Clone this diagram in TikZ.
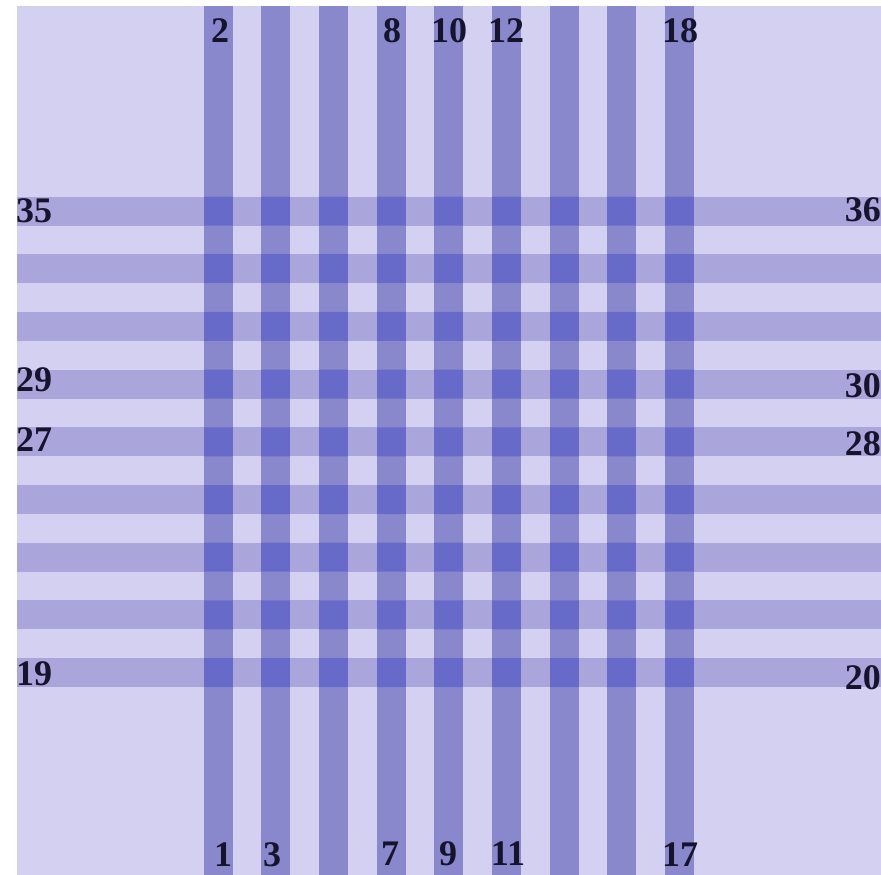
\documentclass[tikz,border=0pt]{standalone}
\usepackage{fontspec}
\setmainfont{Liberation Serif}
\usepackage{tikz}
\usetikzlibrary{positioning}
\definecolor{plaidbg}{RGB}{211,208,241}
\definecolor{plaidrow}{RGB}{170,166,220}
\definecolor{plaidcol}{RGB}{138,136,205}
\definecolor{plaidmix}{RGB}{103,106,201}
\definecolor{plaidink}{RGB}{22,20,45}

\tikzset{
  warp/.style={fill=plaidcol},
  weft/.style={fill=plaidrow},
  num/.style={font=\fontsize{36}{40}\selectfont\bfseries, text=plaidink, inner sep=0pt}
}

\begin{document}
\begin{tikzpicture}[x=1pt,y=-1pt]
  \useasboundingbox (0,0) rectangle (881,875);
  \fill[white] (0,0) rectangle (881,875);
  \fill[plaidbg] (17,6) rectangle (881,875);

  % horizontal strips, then vertical ones, then the crossings
  \foreach \y in {211,268.7,326.4,384.1,441.8,499.5,557.2,614.9,672.6}
    \fill[weft] (17,\y-14.5) rectangle (881,\y+14.5);
  \foreach \x in {218,275.7,333.4,391.1,448.8,506.5,564.2,621.9,679.6}
    \fill[warp] (\x-14.5,6) rectangle (\x+14.5,875);
  \begin{scope}
    \clip \foreach \y in {211,268.7,326.4,384.1,441.8,499.5,557.2,614.9,672.6}
      {(17,\y-14.5) rectangle (881,\y+14.5)};
    \foreach \x in {218,275.7,333.4,391.1,448.8,506.5,564.2,621.9,679.6}
      \fill[plaidmix] (\x-14.5,6) rectangle (\x+14.5,875);
  \end{scope}

  % top numbers
  \node[num] (t2) at (220,31) {2};
  \node[num] (t8) at (392,31) {8};
  \node[num] (t10) at (449,31) {10};
  \node[num] (t12) at (506,31) {12};
  \node[num] (t18) at (680,31) {18};

  % bottom numbers
  \node[num] (b1) at (223,855) {1};
  \node[num] (b3) at (272,855) {3};
  \node[num] (b7) at (390,854) {7};
  \node[num] (b9) at (448,854) {9};
  \node[num] (b11) at (508,854) {11};
  \node[num] (b17) at (680,855) {17};

  % left numbers
  \node[num, anchor=west] (l35) at (16,211) {35};
  \node[num, anchor=west] (l29) at (16,380) {29};
  \node[num, anchor=west] (l27) at (16,440) {27};
  \node[num, anchor=west] (l19) at (16,674) {19};

  % right numbers
  \node[num, anchor=east] (r36) at (881,210) {36};
  \node[num, anchor=east] (r30) at (881,386) {30};
  \node[num, anchor=east] (r28) at (881,444) {28};
  \node[num, anchor=east] (r20) at (881,678) {20};
\end{tikzpicture}
\end{document}
